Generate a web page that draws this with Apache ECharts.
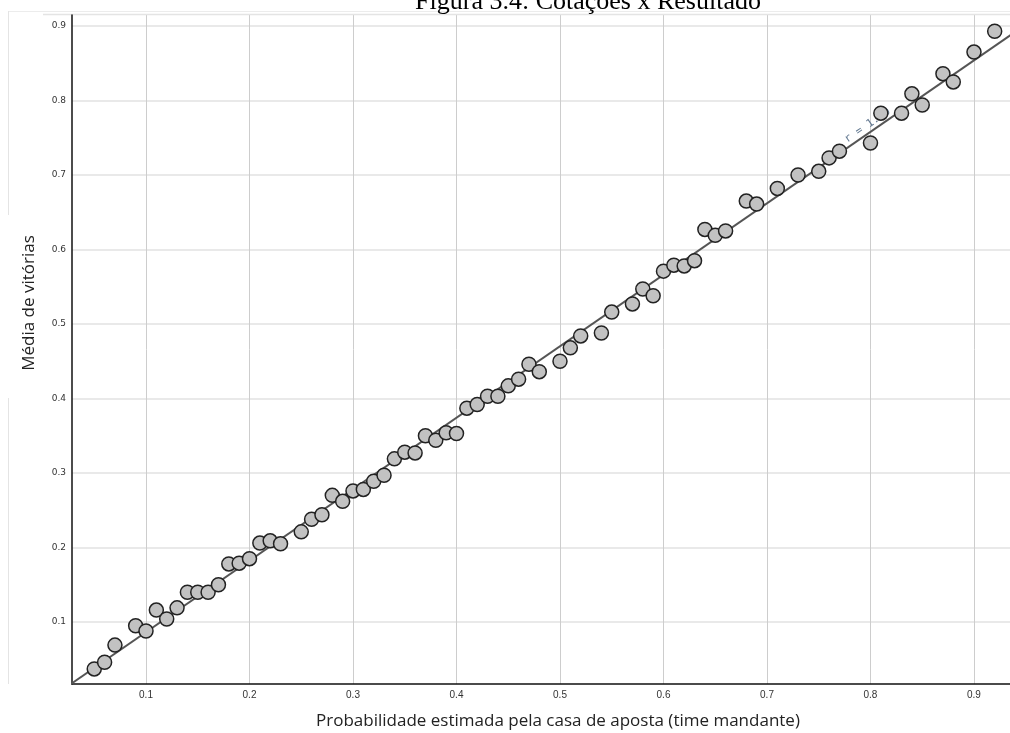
<!DOCTYPE html>
<html>
<head>
<meta charset="utf-8">
<script src="https://cdn.jsdelivr.net/npm/echarts@6/dist/echarts.min.js"></script>
<style>
  html, body { margin: 0; padding: 0; background: #ffffff; }
  #chart { width: 1010px; height: 733px; }
</style>
</head>
<body>
<div id="chart"></div>
<script>
// Probabilidade implícita da casa de apostas (time mandante)
const probEstimada = [
  0.05, 0.06, 0.07, 0.09, 0.10, 0.11, 0.12, 0.13, 0.14, 0.15,
  0.16, 0.17, 0.18, 0.19, 0.20, 0.21, 0.22, 0.23, 0.25, 0.26,
  0.27, 0.28, 0.29, 0.30, 0.31, 0.32, 0.33, 0.34, 0.35, 0.36,
  0.37, 0.38, 0.39, 0.40, 0.41, 0.42, 0.43, 0.44, 0.45, 0.46,
  0.47, 0.48, 0.50, 0.51, 0.52, 0.54, 0.55, 0.57, 0.58, 0.59,
  0.60, 0.61, 0.62, 0.63, 0.64, 0.65, 0.66, 0.68, 0.69, 0.71,
  0.73, 0.75, 0.76, 0.77, 0.80, 0.81, 0.83, 0.84, 0.85, 0.87,
  0.88, 0.90, 0.92
];
// Média de vitórias observada em cada faixa
const mediaVitorias = [
  0.037, 0.046, 0.069, 0.095, 0.088, 0.116, 0.104, 0.119, 0.140, 0.140,
  0.140, 0.150, 0.178, 0.179, 0.185, 0.206, 0.209, 0.205, 0.221, 0.238,
  0.244, 0.270, 0.262, 0.276, 0.278, 0.289, 0.297, 0.319, 0.328, 0.327,
  0.350, 0.344, 0.354, 0.353, 0.387, 0.392, 0.403, 0.403, 0.417, 0.426,
  0.446, 0.436, 0.450, 0.468, 0.484, 0.488, 0.516, 0.527, 0.547, 0.538,
  0.571, 0.579, 0.578, 0.585, 0.627, 0.619, 0.625, 0.665, 0.661, 0.682,
  0.700, 0.705, 0.723, 0.732, 0.743, 0.783, 0.783, 0.809, 0.794, 0.836,
  0.825, 0.865, 0.893
];
const xTickValues = [0.1, 0.2, 0.3, 0.4, 0.5, 0.6, 0.7, 0.8, 0.9];
const yTickValues = [0.1, 0.2, 0.3, 0.4, 0.5, 0.6, 0.7, 0.8, 0.9];

const titulo = 'Figura 3.4: Cotações x Resultado';
const nomeEixoX = 'Probabilidade estimada pela casa de aposta (time mandante)';
const nomeEixoY = 'Média de vitórias';

// Visible ranges of the two axes
const xRange = [0.0285, 0.9348];
const yRange = [0.0168, 0.9148];

// Least-squares fit and Pearson correlation of the points
function fit(xs, ys) {
  const n = xs.length;
  const mx = xs.reduce((a, b) => a + b, 0) / n;
  const my = ys.reduce((a, b) => a + b, 0) / n;
  let sxy = 0, sxx = 0, syy = 0;
  for (let i = 0; i < n; i++) {
    sxy += (xs[i] - mx) * (ys[i] - my);
    sxx += (xs[i] - mx) ** 2;
    syy += (ys[i] - my) ** 2;
  }
  const slope = sxy / sxx;
  return { slope, intercept: my - slope * mx, r: sxy / Math.sqrt(sxx * syy) };
}
const reg = fit(probEstimada, mediaVitorias);
const fitY = x => reg.intercept + reg.slope * x;

const chart = echarts.init(document.getElementById('chart'), null, { renderer: 'canvas' });

const points = probEstimada.map((x, i) => [x, mediaVitorias[i]]);
const fitLine = [[xRange[0] - 0.02, fitY(xRange[0] - 0.02)], [xRange[1] + 0.02, fitY(xRange[1] + 0.02)]];

chart.setOption({
  animation: false,
  backgroundColor: '#ffffff',
  grid: { left: 72, right: 0, top: 15, bottom: 49, containLabel: false },
  xAxis: {
    type: 'value',
    min: xRange[0],
    max: xRange[1],
    axisLine: { show: true, onZero: false, lineStyle: { color: '#111', width: 1.5 } },
    axisTick: { show: false, customValues: xTickValues },
    axisLabel: {
      customValues: xTickValues,
      formatter: v => v.toFixed(1),
      fontFamily: 'Liberation Sans Narrow, Liberation Sans, sans-serif',
      fontSize: 10,
      color: '#333',
      margin: 6
    },
    splitLine: { show: true, lineStyle: { color: '#cdcdcd', width: 1 } }
  },
  yAxis: {
    type: 'value',
    min: yRange[0],
    max: yRange[1],
    axisLine: { show: true, onZero: false, lineStyle: { color: '#111', width: 1.5 } },
    axisTick: { show: false, customValues: yTickValues },
    axisLabel: {
      customValues: yTickValues,
      formatter: v => v.toFixed(1),
      fontFamily: 'DejaVu Sans, sans-serif',
      fontSize: 9,
      color: '#333',
      margin: 6
    },
    splitLine: { show: true, lineStyle: { color: '#e2e2e2', width: 1.5 } }
  },
  series: [
    {
      type: 'line',
      data: fitLine,
      showSymbol: false,
      silent: true,
      clip: true,
      z: 1,
      lineStyle: { color: '#555555', width: 2 }
    },
    {
      type: 'scatter',
      data: points,
      symbol: 'circle',
      symbolSize: 14,
      z: 3,
      itemStyle: { color: '#c2c2c2', borderColor: '#222222', borderWidth: 1.5, opacity: 1 }
    }
  ]
});

// Correlation label laid along the fitted line, just behind the points
const pA = chart.convertToPixel({ gridIndex: 0 }, [0.75, fitY(0.75)]);
const pB = chart.convertToPixel({ gridIndex: 0 }, [0.85, fitY(0.85)]);
const ang = Math.atan2(-(pB[1] - pA[1]), pB[0] - pA[0]);
const pC = chart.convertToPixel({ gridIndex: 0 }, [0.801, fitY(0.801)]);
const off = 7;
const lx = pC[0] - off * Math.sin(ang);
const ly = pC[1] - off * Math.cos(ang);

chart.setOption({
  graphic: [
    // faint frame around the figure
    { type: 'line', z: 0, silent: true, shape: { x1: 8, y1: 11.5, x2: 1010, y2: 11.5 }, style: { stroke: '#ececec', lineWidth: 1 } },
    { type: 'line', z: 0, silent: true, shape: { x1: 43, y1: 14.5, x2: 1010, y2: 14.5 }, style: { stroke: '#e4e4e4', lineWidth: 1.5 } },
    { type: 'line', z: 0, silent: true, shape: { x1: 8.5, y1: 11, x2: 8.5, y2: 215 }, style: { stroke: '#e4e4e4', lineWidth: 1 } },
    { type: 'line', z: 0, silent: true, shape: { x1: 8.5, y1: 398, x2: 8.5, y2: 684 }, style: { stroke: '#e4e4e4', lineWidth: 1 } },
    {
      type: 'text', z: 10, silent: true,
      x: 588, y: 15,
      style: {
        text: titulo,
        fontFamily: 'Liberation Serif, Times New Roman, serif',
        fontSize: 26,
        fill: '#000',
        align: 'center',
        verticalAlign: 'bottom'
      }
    },
    {
      type: 'text', z: 10, silent: true,
      x: 558, y: 721,
      style: {
        text: nomeEixoX,
        fontFamily: 'Open Sans, sans-serif',
        fontSize: 17,
        fill: '#222',
        align: 'center',
        verticalAlign: 'middle'
      }
    },
    {
      type: 'text', z: 10, silent: true,
      x: 29, y: 303, rotation: Math.PI / 2,
      style: {
        text: nomeEixoY,
        fontFamily: 'Open Sans, sans-serif',
        fontSize: 17,
        fill: '#222',
        align: 'center',
        verticalAlign: 'middle'
      }
    },
    {
      type: 'text', z: 1, silent: true,
      x: lx, y: ly, rotation: ang,
      style: {
        text: 'r = ' + reg.r.toFixed(2),
        fontFamily: 'DejaVu Sans Mono, monospace',
        fontSize: 11,
        fill: '#647a92',
        align: 'center',
        verticalAlign: 'middle'
      }
    }
  ]
});
</script>
</body>
</html>
